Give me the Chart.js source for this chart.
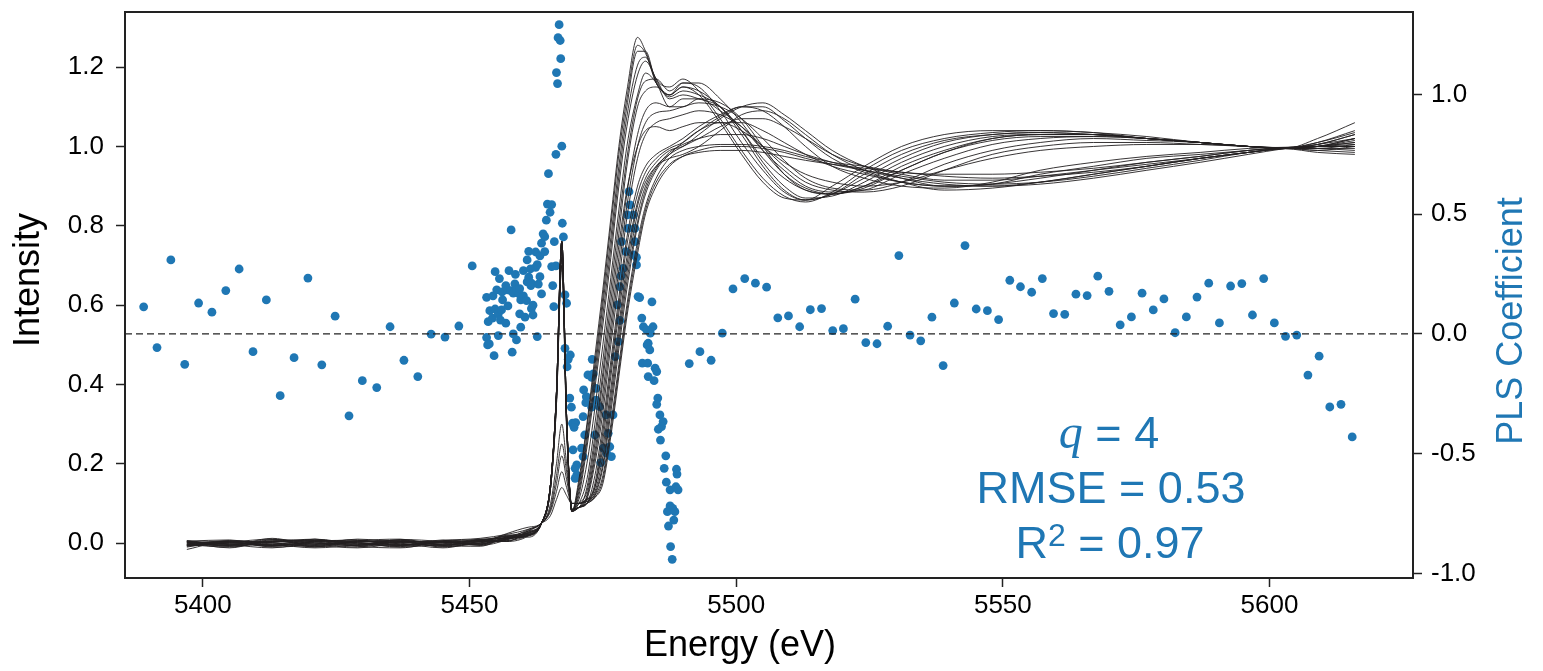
<!DOCTYPE html>
<html>
<head>
<meta charset="utf-8">
<script src="https://cdn.jsdelivr.net/npm/chart.js@4.4.0/dist/chart.umd.min.js"></script>
<style>
  html, body { margin: 0; padding: 0; background: #fff; }
  #wrap { width: 1543px; height: 671px; }
</style>
</head>
<body>
<div id="wrap"><canvas id="chart" width="1543" height="671"></canvas></div>
<script>
// Energy grid shared by all spectra (eV)
const energy = [5397, 5405, 5413, 5421, 5429, 5437, 5445, 5452, 5457, 5461,
  5463.5, 5465.2, 5466.3, 5467.3, 5468.2, 5469.2, 5470.5, 5472, 5473.5, 5475,
  5476.5, 5478, 5479.5, 5481.5, 5483, 5485, 5487.5, 5490, 5493, 5497,
  5501, 5505, 5509, 5513, 5518, 5524, 5531, 5539, 5548, 5557,
  5567, 5577, 5587, 5596, 5603, 5609, 5616];

// Normalised intensities, one array per spectrum
const spec01 = [-0.004, 0.002, -0.008, 0.004, -0.006, 0.003, -0.005, 0.006, 0.014, 0.022,
  0.05, 0.15, 0.38, 0.76, 0.32,
  0.08, 0.16, 0.30, 0.47, 0.64, 0.82, 1.0, 1.14, 1.275, 1.24, 1.17, 1.15, 1.17, 1.14, 1.07, 0.99,
  0.92, 0.875, 0.86, 0.885, 0.94, 0.99, 1.02, 1.035, 1.04, 1.035, 1.025, 1.01, 1.0, 0.995, 1.02, 1.06];
const spec02 = [0.003, -0.006, 0.005, -0.003, 0.002, -0.007, 0.004, 0.002, 0.01, 0.025,
  0.05, 0.15, 0.38, 0.76, 0.32,
  0.08, 0.14, 0.27, 0.43, 0.6, 0.77, 0.95, 1.1, 1.24, 1.24, 1.16, 1.13, 1.16, 1.15, 1.09, 1.01,
  0.94, 0.885, 0.865, 0.88, 0.93, 0.98, 1.015, 1.03, 1.035, 1.03, 1.02, 1.01, 1.0, 0.995, 1.01, 1.04];
const spec03 = [-0.01, 0.004, -0.002, -0.008, 0.006, -0.002, -0.006, 0.008, 0.004, 0.018,
  0.05, 0.15, 0.37, 0.74, 0.31,
  0.08, 0.12, 0.24, 0.39, 0.55, 0.72, 0.9, 1.05, 1.18, 1.215, 1.17, 1.12, 1.13, 1.12, 1.1, 1.04,
  0.96, 0.9, 0.87, 0.875, 0.91, 0.96, 1.0, 1.025, 1.03, 1.03, 1.02, 1.01, 1.0, 0.995, 1.0, 1.02];
const spec04 = [0.002, -0.012, 0.008, 0.0, -0.01, 0.004, 0.0, -0.004, 0.016, 0.03,
  0.05, 0.15, 0.38, 0.76, 0.32,
  0.085, 0.11, 0.2, 0.34, 0.5, 0.67, 0.84, 1.0, 1.13, 1.185, 1.16, 1.1, 1.1, 1.12, 1.11, 1.07,
  1.0, 0.93, 0.89, 0.88, 0.9, 0.94, 0.985, 1.015, 1.025, 1.025, 1.02, 1.01, 1.0, 0.995, 1.005, 1.03];
const spec05 = [-0.006, 0.0, -0.004, 0.01, -0.002, -0.006, 0.008, 0.003, 0.006, 0.02,
  0.05, 0.15, 0.37, 0.74, 0.31,
  0.085, 0.09, 0.14, 0.27, 0.43, 0.61, 0.78, 0.95, 1.1, 1.14, 1.15, 1.13, 1.15, 1.14, 1.1, 1.04,
  0.97, 0.92, 0.89, 0.88, 0.9, 0.95, 0.99, 1.02, 1.03, 1.03, 1.02, 1.01, 1.0, 0.995, 1.0, 1.02];
const spec06 = [0.004, -0.004, -0.012, 0.002, 0.004, 0.006, -0.01, 0.005, 0.018, 0.015,
  0.05, 0.15, 0.38, 0.76, 0.32,
  0.08, 0.09, 0.12, 0.23, 0.38, 0.55, 0.72, 0.88, 1.03, 1.09, 1.11, 1.1, 1.12, 1.12, 1.09, 1.05,
  0.99, 0.94, 0.9, 0.885, 0.89, 0.93, 0.97, 1.005, 1.02, 1.025, 1.02, 1.01, 1.0, 0.996, 0.99, 1.0];
const spec07 = [-0.002, 0.006, 0.0, -0.006, -0.012, 0.0, 0.004, -0.006, 0.008, 0.028,
  0.05, 0.14, 0.36, 0.72, 0.30,
  0.085, 0.09, 0.11, 0.2, 0.33, 0.5, 0.66, 0.82, 0.97, 1.03, 1.06, 1.07, 1.08, 1.09, 1.08, 1.05,
  1.0, 0.95, 0.91, 0.89, 0.885, 0.9, 0.94, 0.98, 1.0, 1.01, 1.01, 1.005, 1.0, 0.995, 1.0, 1.0];
const spec08 = [0.0, -0.008, 0.004, 0.006, 0.0, -0.01, -0.002, 0.01, 0.012, 0.02,
  0.05, 0.15, 0.38, 0.76, 0.32,
  0.08, 0.09, 0.1, 0.17, 0.3, 0.46, 0.62, 0.77, 0.9, 0.95, 0.98, 1.0, 1.02, 1.05, 1.08, 1.1,
  1.09, 1.05, 1.0, 0.95, 0.92, 0.9, 0.895, 0.91, 0.94, 0.96, 0.975, 0.985, 0.995, 0.998, 1.0, 1.0];
const spec09 = [-0.008, 0.002, 0.01, -0.01, 0.004, 0.002, -0.008, 0.0, 0.02, 0.024,
  0.05, 0.14, 0.35, 0.70, 0.29,
  0.085, 0.09, 0.1, 0.14, 0.26, 0.42, 0.58, 0.72, 0.86, 0.92, 0.96, 0.99, 1.0, 1.03, 1.07, 1.1,
  1.11, 1.08, 1.04, 0.99, 0.95, 0.92, 0.9, 0.905, 0.92, 0.94, 0.96, 0.975, 0.99, 0.997, 1.0, 1.0];
const spec10 = [-0.016, 0.006, -0.006, 0.003, 0.008, -0.004, 0.002, 0.006, 0.004, 0.032,
  0.05, 0.09, 0.17, 0.25, 0.18,
  0.1, 0.1, 0.11, 0.13, 0.22, 0.37, 0.53, 0.68, 0.83, 0.9, 0.95, 0.98, 1.0, 1.02, 1.05, 1.07,
  1.07, 1.05, 1.02, 0.98, 0.95, 0.93, 0.915, 0.915, 0.925, 0.94, 0.955, 0.97, 0.985, 0.995, 0.99, 0.985];
const spec11 = [0.006, -0.002, -0.004, -0.012, -0.004, 0.008, -0.006, -0.008, 0.014, 0.018,
  0.05, 0.15, 0.37, 0.74, 0.31,
  0.08, 0.09, 0.1, 0.12, 0.19, 0.33, 0.49, 0.64, 0.8, 0.88, 0.94, 0.98, 1.01, 1.04, 1.06, 1.06,
  1.04, 1.01, 0.98, 0.95, 0.93, 0.91, 0.9, 0.9, 0.91, 0.93, 0.95, 0.97, 0.985, 0.996, 1.0, 1.005];
const spec12 = [-0.004, -0.01, 0.006, 0.008, -0.008, -0.012, 0.006, 0.012, 0.022, 0.035,
  0.05, 0.08, 0.13, 0.18, 0.14,
  0.1, 0.1, 0.11, 0.12, 0.17, 0.3, 0.45, 0.6, 0.76, 0.85, 0.92, 0.97, 0.99, 1.0, 1.005, 1.005,
  1.0, 0.99, 0.975, 0.96, 0.95, 0.935, 0.93, 0.93, 0.935, 0.945, 0.96, 0.975, 0.99, 0.996, 0.995, 0.99];
const spec13 = [0.001, 0.004, -0.01, -0.004, 0.01, 0.0, -0.012, 0.004, 0.01, 0.03,
  0.05, 0.07, 0.11, 0.14, 0.12,
  0.1, 0.1, 0.105, 0.115, 0.15, 0.27, 0.42, 0.57, 0.73, 0.83, 0.9, 0.95, 0.975, 0.99, 1.0, 1.0,
  0.995, 0.985, 0.97, 0.955, 0.94, 0.925, 0.91, 0.905, 0.91, 0.925, 0.945, 0.965, 0.985, 0.995, 1.0, 1.01];
const spec14 = [-0.006, -0.002, 0.002, 0.006, -0.003, 0.005, 0.002, -0.002, 0.018, 0.022,
  0.05, 0.15, 0.38, 0.76, 0.32,
  0.08, 0.15, 0.29, 0.45, 0.62, 0.8, 0.98, 1.12, 1.255, 1.235, 1.16, 1.13, 1.15, 1.13, 1.06, 0.98,
  0.91, 0.87, 0.865, 0.9, 0.95, 1.0, 1.03, 1.04, 1.04, 1.035, 1.02, 1.01, 1.0, 0.997, 1.01, 1.035];
const spec15 = [0.005, 0.008, -0.006, -0.002, 0.0, -0.004, 0.006, 0.008, 0.006, 0.026,
  0.05, 0.14, 0.36, 0.72, 0.30,
  0.08, 0.1, 0.13, 0.25, 0.41, 0.58, 0.75, 0.89, 1.0, 1.04, 1.05, 1.04, 1.05, 1.06, 1.06, 1.04,
  1.0, 0.96, 0.93, 0.91, 0.9, 0.91, 0.94, 0.97, 0.99, 1.0, 1.005, 1.005, 1.0, 0.996, 0.995, 0.995];
const spec16 = [-0.002, -0.006, 0.012, -0.006, 0.006, 0.01, -0.004, 0.0, 0.024, 0.04,
  0.05, 0.1, 0.2, 0.3, 0.2,
  0.1, 0.1, 0.11, 0.14, 0.24, 0.39, 0.55, 0.7, 0.85, 0.91, 0.95, 0.97, 0.98, 1.0, 1.04, 1.08,
  1.09, 1.07, 1.03, 0.98, 0.94, 0.91, 0.89, 0.895, 0.91, 0.93, 0.95, 0.97, 0.985, 0.996, 1.0, 1.015];
const spec17 = [0.004, -0.003, -0.006, 0.007, 0.001, -0.009, 0.003, -0.002, 0.012, 0.019,
  0.05, 0.15, 0.38, 0.76, 0.32,
  0.08, 0.13, 0.255, 0.41, 0.575, 0.745, 0.925, 1.075, 1.205, 1.225, 1.165, 1.125, 1.14, 1.13, 1.1, 1.03,
  0.95, 0.89, 0.865, 0.88, 0.92, 0.97, 1.01, 1.03, 1.035, 1.03, 1.02, 1.01, 1.0, 0.996, 1.005, 1.03];
const spec18 = [-0.003, 0.005, 0.001, -0.009, 0.003, 0.007, -0.003, 0.004, 0.009, 0.027,
  0.05, 0.15, 0.38, 0.76, 0.32,
  0.085, 0.1, 0.16, 0.3, 0.46, 0.64, 0.81, 0.97, 1.12, 1.165, 1.17, 1.14, 1.16, 1.16, 1.12, 1.06,
  0.99, 0.93, 0.895, 0.88, 0.895, 0.94, 0.985, 1.02, 1.03, 1.03, 1.02, 1.01, 1.0, 0.995, 1.0, 1.01];
const spec19 = [0.002, -0.005, 0.009, 0.003, -0.007, 0.002, 0.005, -0.003, 0.015, 0.021,
  0.05, 0.15, 0.37, 0.74, 0.31,
  0.085, 0.09, 0.115, 0.215, 0.355, 0.525, 0.69, 0.85, 1.0, 1.06, 1.085, 1.09, 1.1, 1.11, 1.1, 1.07,
  1.02, 0.965, 0.92, 0.895, 0.89, 0.91, 0.955, 0.99, 1.01, 1.02, 1.015, 1.01, 1.0, 0.996, 0.995, 1.005];
const spec20 = [-0.005, 0.003, -0.008, 0.005, 0.007, -0.006, 0.001, 0.007, 0.017, 0.025,
  0.05, 0.14, 0.36, 0.72, 0.30,
  0.085, 0.09, 0.1, 0.15, 0.28, 0.44, 0.6, 0.75, 0.88, 0.935, 0.97, 0.995, 1.01, 1.04, 1.075, 1.1,
  1.1, 1.065, 1.02, 0.97, 0.935, 0.91, 0.9, 0.905, 0.93, 0.95, 0.97, 0.98, 0.99, 0.997, 1.0, 1.0];
const spec21 = [0.006, -0.008, 0.002, 0.01, -0.005, 0.004, -0.008, 0.009, 0.013, 0.034,
  0.05, 0.085, 0.15, 0.22, 0.16,
  0.1, 0.1, 0.105, 0.125, 0.2, 0.35, 0.51, 0.66, 0.81, 0.89, 0.945, 0.985, 1.005, 1.02, 1.03, 1.03,
  1.02, 1.0, 0.98, 0.96, 0.94, 0.92, 0.905, 0.9, 0.905, 0.92, 0.94, 0.96, 0.98, 0.995, 1.005, 1.02];
const spec22 = [-0.007, 0.001, 0.004, -0.002, -0.006, 0.009, 0.004, -0.005, 0.011, 0.02,
  0.05, 0.14, 0.35, 0.70, 0.29,
  0.08, 0.09, 0.1, 0.115, 0.16, 0.285, 0.435, 0.585, 0.745, 0.84, 0.91, 0.955, 0.975, 0.985, 0.99, 0.99,
  0.985, 0.975, 0.965, 0.955, 0.945, 0.935, 0.925, 0.92, 0.925, 0.935, 0.95, 0.97, 0.985, 0.994, 0.985, 0.98];

const spectra = [spec01, spec02, spec03, spec04, spec05, spec06, spec07, spec08,
  spec09, spec10, spec11, spec12, spec13, spec14, spec15, spec16,
  spec17, spec18, spec19, spec20, spec21, spec22];

// PLS regression coefficients (right axis)
const coefEnergy = [
  5388.9, 5391.4, 5394.0, 5396.6, 5399.2, 5401.7, 5404.3, 5406.8, 5409.4, 5411.9,
  5414.5, 5417.1, 5419.7, 5422.3, 5424.8, 5427.4, 5429.9, 5432.6, 5435.1, 5437.7,
  5440.3, 5442.8, 5445.4, 5448.0, 5450.5,
  5453.2, 5453.2, 5453.4, 5453.5, 5453.7, 5453.8, 5454.3, 5454.4, 5454.6, 5454.8,
  5454.8, 5455.1, 5455.4, 5455.4, 5455.6, 5455.8, 5456.0, 5456.1, 5456.2, 5456.8,
  5456.8, 5457.1, 5457.2, 5457.4, 5457.7, 5457.8, 5458.0, 5458.2, 5458.2, 5458.5,
  5458.6, 5458.8, 5458.8, 5459.3, 5459.4, 5459.4, 5459.6, 5459.6, 5460.1, 5460.1,
  5460.4, 5460.7, 5460.8, 5460.8, 5461.1, 5461.1, 5461.4, 5461.5, 5461.6, 5461.6,
  5461.9, 5461.9, 5462.4, 5462.4, 5462.7, 5462.7, 5462.9, 5463.2, 5463.2, 5463.5,
  5463.5, 5463.8, 5464.1, 5464.1, 5464.4, 5464.6, 5464.8, 5465.1, 5465.4, 5465.4,
  5465.6, 5465.8, 5465.9, 5466.2, 5466.2, 5466.3, 5466.5, 5466.6, 5466.8, 5467.0,
  5467.1, 5467.3, 5467.4, 5467.6, 5467.9, 5468.2,
  5467.9, 5468.9, 5468.5, 5468.3, 5468.8, 5469.1, 5469.3, 5469.9, 5469.6, 5469.4,
  5470.1, 5469.8, 5470.1, 5469.8, 5471.0, 5471.3, 5471.3, 5471.4, 5471.9, 5471.6,
  5471.8, 5472.2, 5472.9, 5473.2, 5473.0, 5472.9, 5473.5, 5473.7, 5473.7, 5474.4,
  5474.6, 5475.1, 5475.6, 5475.7, 5476.0, 5476.3, 5476.6, 5476.9, 5477.3, 5477.9,
  5478.2, 5477.7, 5478.2, 5478.4, 5478.8, 5478.5, 5479.3, 5479.7, 5479.6, 5480.1,
  5479.9, 5480.7, 5481.0, 5481.0, 5480.8, 5481.3, 5481.3, 5481.6, 5481.9, 5484.2,
  5482.3, 5482.6, 5483.2, 5483.9, 5484.4, 5483.5, 5483.3, 5483.8, 5482.4, 5483.4,
  5484.8, 5485.1, 5483.5, 5484.6, 5485.3, 5485.1, 5485.7, 5486.3, 5486.0, 5485.4,
  5485.8, 5486.8, 5486.5, 5488.8, 5488.9, 5486.9, 5487.6, 5488.7, 5489.1, 5487.6,
  5488.1, 5487.1, 5488.5, 5488.3, 5487.3, 5487.7, 5488.0,
  5491.2, 5493.2, 5495.3, 5497.4, 5499.4, 5501.6, 5503.6, 5505.7, 5507.8, 5509.8,
  5511.9, 5513.9, 5516.0, 5518.1, 5520.1, 5522.3, 5524.3, 5526.4, 5528.4, 5530.5,
  5532.6, 5534.6, 5536.7, 5538.8, 5540.9, 5542.9, 5545.0, 5547.1, 5549.2, 5551.3,
  5553.3, 5555.4, 5557.4, 5559.5, 5561.6, 5563.7, 5565.8, 5567.8, 5569.9, 5572.0,
  5574.1, 5576.1, 5578.2, 5580.2, 5582.3, 5584.4, 5586.4, 5588.6, 5590.6, 5592.7,
  5594.8, 5596.8, 5598.9, 5600.9, 5603.0, 5605.1, 5607.2, 5609.3, 5611.3, 5613.4,
  5615.5
];
const coefValue = [
  0.113, -0.057, 0.309, -0.127, 0.129, 0.091, 0.181, 0.271, -0.074, 0.142,
  -0.258, -0.099, 0.233, -0.129, 0.074, -0.342, -0.195, -0.224, 0.030, -0.110,
  -0.178, -0.001, -0.013, 0.033, 0.284,
  0.153, -0.015, -0.046, 0.051, -0.042, 0.097, 0.066, 0.159, -0.091, 0.104,
  0.260, 0.184, 0.084, -0.007, 0.231, 0.058, 0.100, 0.175, 0.142, 0.045,
  0.202, 0.184, 0.117, 0.264, 0.181, 0.434, -0.076, 0.170, 0.000, 0.209,
  0.249, 0.184, -0.025, 0.167, 0.189, 0.084, 0.142, 0.028, 0.264, 0.159,
  0.070, 0.139, 0.309, 0.217, 0.237, 0.345, 0.271, 0.202, 0.212, 0.106,
  0.120, 0.079, 0.278, 0.342, 0.289, -0.011, 0.208, 0.326, 0.239, 0.379,
  0.167, 0.418, 0.406, 0.344, 0.475, 0.542, 0.669, 0.508, 0.540, 0.281,
  0.202, 0.114, 0.385, 0.284, 0.750, 1.091, 1.045, 1.237, 1.291, 1.225,
  1.149, 0.784, 0.462, 0.405, 0.163, 0.128,
  -0.060, -0.088, -0.106, -0.137, -0.268, -0.306, -0.373, -0.370, -0.390, -0.484,
  -0.547, -0.561, -0.589, -0.603, -0.477, -0.512, -0.345, -0.234, -0.262, -0.422,
  -0.287, -0.171, -0.181, -0.167, -0.106, -0.306, -0.422, -0.276, -0.227, -0.304,
  -0.537, -0.477, -0.338, -0.498, -0.415, -0.471, -0.512, -0.338, -0.095, -0.032,
  0.056, 0.121, 0.197, 0.242, 0.274, 0.385, 0.344, 0.441, 0.497, 0.539,
  0.594, 0.497, 0.441, 0.385, 0.330, 0.320, 0.288, 0.156, 0.152, 0.134,
  0.066, 0.030, 0.017, 0.003, 0.030, -0.039, -0.046, -0.067, -0.122, -0.122,
  -0.143, -0.157, -0.178, -0.195, -0.268, -0.294, -0.338, -0.366, -0.387, -0.398,
  -0.443, -0.509, -0.561, -0.565, -0.585, -0.619, -0.651, -0.638, -0.651, -0.718,
  -0.728, -0.742, -0.742, -0.777, -0.802, -0.888, -0.941,
  -0.124, -0.074, -0.110, 0.003, 0.188, 0.231, 0.212, 0.195, 0.067, 0.075,
  0.030, 0.101, 0.106, 0.014, 0.022, 0.145, -0.036, -0.041, 0.032, 0.327,
  -0.005, -0.029, 0.070, -0.132, 0.129, 0.369, 0.104, 0.097, 0.060, 0.224,
  0.197, 0.174, 0.231, 0.085, 0.082, 0.166, 0.160, 0.241, 0.178, 0.038,
  0.071, 0.170, 0.100, 0.146, 0.005, 0.071, 0.154, 0.212, 0.046, 0.200,
  0.210, 0.079, 0.231, 0.046, -0.010, -0.005, -0.172, -0.093, -0.305, -0.294,
  -0.430
];

// Axis ticks and limits
const energyTicks = [5400, 5450, 5500, 5550, 5600];
const intensityTicks = [0.0, 0.2, 0.4, 0.6, 0.8, 1.0, 1.2];
const coefTicks = [-1.0, -0.5, 0.0, 0.5, 1.0];
const X_MIN = 5385.4, X_MAX = 5626.9;

const BLUE = '#1f77b4';
const INK = '#231f20';
const FONT = "'Liberation Sans', Arial, sans-serif";

Chart.defaults.font.family = FONT;
Chart.defaults.color = '#000';

const spectrumSets = spectra.map(s => ({
  type: 'line',
  data: energy.map((e, i) => ({ x: e, y: s[i] })),
  yAxisID: 'y',
  borderColor: INK,
  borderWidth: 0.9,
  pointRadius: 0,
  cubicInterpolationMode: 'monotone',
  fill: false,
  order: 1
}));

const zeroLine = {
  type: 'line',
  data: [{ x: X_MIN, y: 0 }, { x: X_MAX, y: 0 }],
  yAxisID: 'y1',
  borderColor: '#222',
  borderWidth: 1.3,
  borderDash: [7, 4],
  pointRadius: 0,
  order: 2
};

const coefSet = {
  type: 'scatter',
  data: coefEnergy.map((e, i) => ({ x: e, y: coefValue[i] })),
  yAxisID: 'y1',
  backgroundColor: BLUE,
  borderWidth: 0,
  pointRadius: 4.4,
  order: 3
};

const tickGrid = {
  display: true,
  drawOnChartArea: false,
  drawTicks: true,
  tickLength: 9,
  tickWidth: 1.5,
  tickColor: '#222'
};
const frame = { display: true, color: '#222', width: 2 };

// keep the plot box exactly where the reference has it
const noEdgePad = s => { s.paddingTop = 0; s.paddingBottom = 0; s.paddingLeft = 0; s.paddingRight = 0; };

// Frame top edge, axis titles and the fit statistics
const overlay = {
  id: 'overlay',
  afterDraw(chart) {
    const { ctx, chartArea: a } = chart;
    ctx.save();
    ctx.strokeStyle = '#222';
    ctx.lineWidth = 2;
    ctx.beginPath();
    ctx.moveTo(a.left - 1, a.top);
    ctx.lineTo(a.right + 1, a.top);
    ctx.stroke();

    const title = (text, x, y, rot, color) => {
      ctx.save();
      ctx.fillStyle = color;
      ctx.font = `36px ${FONT}`;
      ctx.translate(x, y);
      ctx.rotate(rot);
      ctx.textAlign = 'center';
      ctx.textBaseline = 'middle';
      ctx.fillText(text, 0, 0);
      ctx.restore();
    };
    title('Intensity', 29, 280, -Math.PI / 2, '#000');
    title('Energy (eV)', 740, 646, 0, '#000');
    title('PLS Coefficient', 1512, 321, -Math.PI / 2, BLUE);

    ctx.fillStyle = BLUE;
    ctx.textAlign = 'left';
    ctx.textBaseline = 'alphabetic';
    const sans = `45px ${FONT}`;
    const line = (parts, cx, base) => {
      let total = 0;
      parts.forEach(p => { ctx.font = p.font; p.w = ctx.measureText(p.text).width; total += p.w; });
      let x = cx - total / 2;
      parts.forEach(p => { ctx.font = p.font; ctx.fillText(p.text, x, base + (p.dy || 0)); x += p.w; });
    };
    line([{ text: 'q', font: "italic 48px 'Liberation Serif', serif" }, { text: ' = 4', font: sans }], 1109, 448);
    line([{ text: 'RMSE = 0.53', font: sans }], 1111, 503);
    line([{ text: 'R', font: sans }, { text: '2', font: `32px ${FONT}`, dy: -12 }, { text: ' = 0.97', font: sans }], 1110, 558);
    ctx.restore();
  }
};

new Chart(document.getElementById('chart'), {
  type: 'scatter',
  data: { datasets: [...spectrumSets, zeroLine, coefSet] },
  options: {
    responsive: false,
    animation: false,
    layout: { padding: { top: 12, left: 0, right: 0, bottom: 0 } },
    plugins: { legend: { display: false }, tooltip: { enabled: false } },
    scales: {
      x: {
        type: 'linear',
        position: 'bottom',
        min: X_MIN,
        max: X_MAX,
        afterBuildTicks: s => { s.ticks = energyTicks.map(v => ({ value: v })); },
        afterFit: s => { s.height = 93; noEdgePad(s); },
        ticks: { font: { size: 26 }, color: '#000', padding: 3, callback: v => String(v) },
        grid: tickGrid,
        border: frame
      },
      y: {
        type: 'linear',
        position: 'left',
        min: -0.088,
        max: 1.339,
        afterBuildTicks: s => { s.ticks = intensityTicks.map(v => ({ value: v })); },
        afterFit: s => { s.width = 125; noEdgePad(s); },
        ticks: { font: { size: 26 }, color: '#000', padding: 12, callback: v => v.toFixed(1) },
        grid: tickGrid,
        border: frame
      },
      y1: {
        type: 'linear',
        position: 'right',
        min: -1.019,
        max: 1.344,
        afterBuildTicks: s => { s.ticks = coefTicks.map(v => ({ value: v })); },
        afterFit: s => { s.width = 130; noEdgePad(s); },
        ticks: { font: { size: 26 }, color: '#000', padding: 9, callback: v => v.toFixed(1) },
        grid: tickGrid,
        border: frame
      }
    }
  },
  plugins: [overlay]
});
</script>
</body>
</html>
